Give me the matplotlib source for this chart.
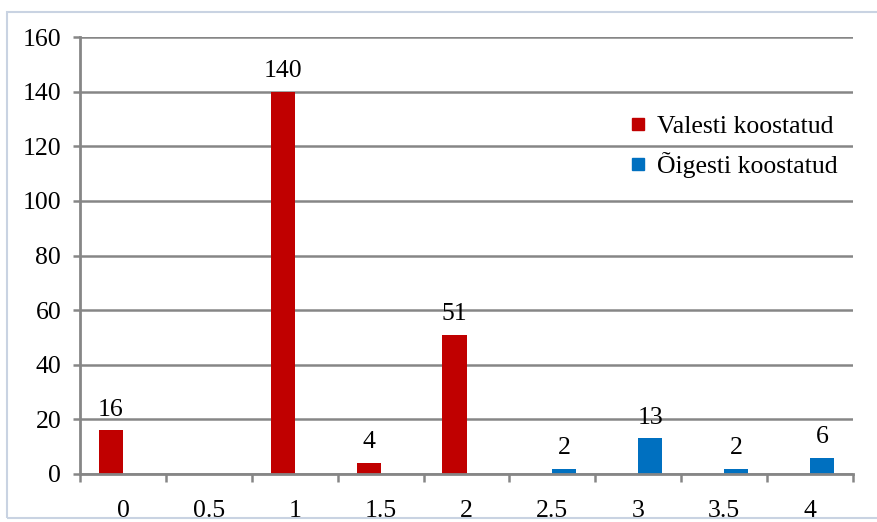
import matplotlib.pyplot as plt
from matplotlib.patches import Rectangle
from matplotlib.lines import Line2D
import numpy as np

plt.rcParams['font.family'] = ['Liberation Serif', 'DejaVu Serif']

kategooriad = ['0', '0.5', '1', '1.5', '2', '2.5', '3', '3.5', '4']
valesti = [16, 0, 140, 4, 51, 0, 0, 0, 0]   # Valesti koostatud
oigesti = [0, 0, 0, 0, 0, 2, 13, 2, 6]      # Õigesti koostatud

punane = '#C00000'
sinine = '#0070C0'
hall = '#868686'

fig = plt.figure(figsize=(8.77, 5.22), dpi=100)
ax = fig.add_axes([80/877, 1 - 474/522, (853-80)/877, (474-37)/522])

x = np.arange(len(kategooriad))
w = 0.28
b1 = ax.bar(x - w/2, valesti, w, color=punane, zorder=3)
b2 = ax.bar(x + w/2, oigesti, w, color=sinine, zorder=3)

# arvud tulpade kohal, ainult nullist suuremad
for bars, vals in [(b1, valesti), (b2, oigesti)]:
    for r, v in zip(bars, vals):
        if v > 0:
            ax.annotate(str(v), (r.get_x() + r.get_width()/2, v), xytext=(0, 7),
                        textcoords='offset points', ha='center', va='bottom', fontsize=18.5)

ax.set_xlim(-0.5, len(kategooriad) - 0.5)
ax.set_ylim(0, 160)
ax.set_yticks(range(0, 161, 20))
ax.yaxis.grid(True, color=hall, linewidth=1.8, zorder=0)

# tickid kategooriate piiridel, sildid keskel
ax.set_xticks(np.arange(-0.5, len(kategooriad)), labels=[])
ax.set_xticks(x, labels=kategooriad, minor=True)
ax.tick_params(axis='x', which='major', length=6, width=1.8, color=hall)
ax.tick_params(axis='x', which='minor', length=0, pad=19, labelsize=18.5)
ax.tick_params(axis='y', length=5, width=1.8, color=hall, pad=8.5, labelsize=18.5)

for s in ['top', 'right']:
    ax.spines[s].set_visible(False)
for s in ['left', 'bottom']:
    ax.spines[s].set_color(hall)
    ax.spines[s].set_linewidth(2.0)
    ax.spines[s].set_zorder(4)

kaepidemed = [Line2D([], [], marker='s', linestyle='', color=punane, markersize=9),
              Line2D([], [], marker='s', linestyle='', color=sinine, markersize=9)]
fig.legend(kaepidemed, ['Valesti koostatud', 'Õigesti koostatud'], loc='upper left',
           bbox_to_anchor=(616/877, 1 - 102/522), frameon=False, fontsize=18.5,
           handlelength=0.7, handletextpad=0.4, labelspacing=0.55, borderpad=0)

fig.patches.append(Rectangle((7/877, 1 - 518/522), 1.0, (518-12)/522, transform=fig.transFigure,
                             fill=False, edgecolor='#C9D3E2', linewidth=1.5))

fig.savefig('out.png', dpi=100)
